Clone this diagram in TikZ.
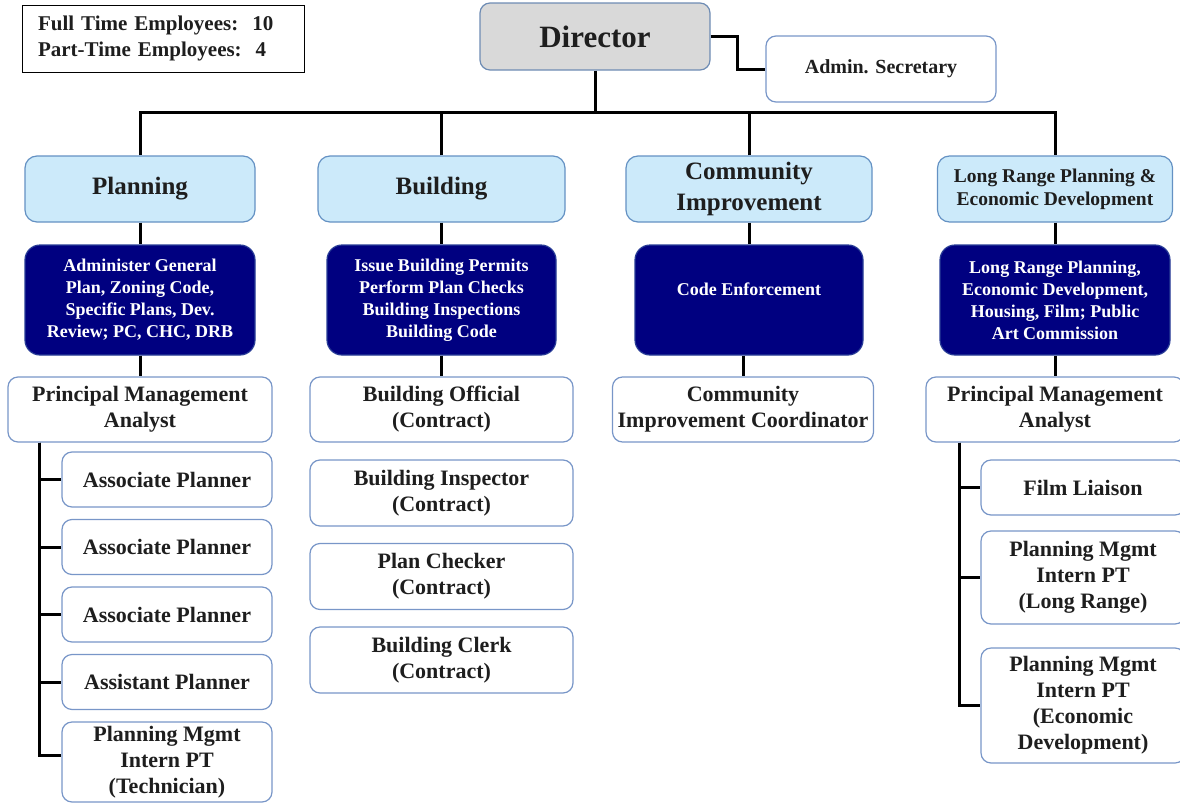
\documentclass[tikz,border=0pt]{standalone}
\usepackage{fontspec}
\setmainfont{Liberation Serif}
\usetikzlibrary{positioning}

\definecolor{chieffill}{RGB}{217,217,217}
\definecolor{chiefline}{RGB}{110,140,180}
\definecolor{deptfill}{RGB}{204,234,250}
\definecolor{deptline}{RGB}{100,145,195}
\definecolor{dutyfill}{RGB}{0,0,128}
\definecolor{dutyline}{RGB}{40,60,150}
\definecolor{staffline}{RGB}{120,150,200}
\definecolor{ink}{RGB}{30,30,30}

\begin{document}
\begin{tikzpicture}[
    x=1pt, y=-1pt,
    on grid,
    every node/.append style={align=center, inner sep=2pt, text=ink},
    box/.style={draw=#1, rounded corners=10pt, line width=1.2pt},
    tally/.style={draw=black, line width=1pt, align=left, text width=250pt, font=\fontsize{21}{26}\selectfont\bfseries},
    chief/.style={box=chiefline, fill=chieffill, font=\fontsize{31}{36}\selectfont\bfseries},
    dept/.style={box=deptline, fill=deptfill, rounded corners=12pt, minimum height=66pt, font=\fontsize{25}{31}\selectfont\bfseries},
    duty/.style={box=dutyline, fill=dutyfill, rounded corners=15pt, minimum height=110pt, text=white, font=\fontsize{18}{22}\selectfont\bfseries},
    staff/.style={box=staffline, fill=white, font=\fontsize{22}{26}\selectfont\bfseries},
    wire/.style={draw=black, line width=3pt}
]
   \useasboundingbox (0,0) rectangle (1180,803);

   % Top
   \node[tally, minimum width=282pt, minimum height=67pt] (tally) at (163,38.5) {Full Time Employees:~~10\\Part-Time Employees:~~4};
   \node[chief, minimum width=230pt, minimum height=67pt] (director) at (595,36.5) {Director};
   \node[staff, minimum width=230pt, minimum height=66pt, font=\fontsize{20}{24}\selectfont\bfseries] (secretary) at (881,69) {Admin. Secretary};

   % Divisions
   \node[dept, minimum width=230pt] (planning) at (140,189) {Planning};
   \node[dept, minimum width=247pt] (building) at (441.5,189) {Building};
   \node[dept, minimum width=246pt] (community) at (749,189) {Community\\Improvement};
   \node[dept, minimum width=235pt, font=\fontsize{19.5}{23}\selectfont\bfseries] (longrange) at (1055,189) {Long Range Planning \&\\Economic Development};

   % Duties
   \node[duty, minimum width=230pt] (planduty) at (140,300) {Administer General\\Plan, Zoning Code,\\Specific Plans, Dev.\\Review; PC, CHC, DRB};
   \node[duty, minimum width=229pt] (buildduty) at (441.5,300) {Issue Building Permits\\Perform Plan Checks\\Building Inspections\\Building Code};
   \node[duty, minimum width=228pt] (codeduty) at (749,300) {Code Enforcement\\\mbox{}};
   \node[duty, minimum width=230pt] (longduty) at (1055,300) {Long Range Planning,\\Economic Development,\\Housing, Film; Public\\Art Commission};

   % Staff
   \node[staff, minimum width=264pt, minimum height=65pt] (pma) at (140,409.5) {Principal Management\\Analyst};
   \node[staff, minimum width=263pt, minimum height=65pt] (official) at (441.5,409.5) {Building Official\\(Contract)};
   \node[staff, minimum width=261pt, minimum height=65pt] (coordinator) at (743,409.5) {Community\\Improvement Coordinator};
   \node[staff, minimum width=258pt, minimum height=65pt] (lpma) at (1055,409.5) {Principal Management\\Analyst};

   \node[staff, minimum width=210pt, minimum height=55pt] (assoc1) at (167,479.5) {Associate Planner};
   \node[staff, minimum width=210pt, minimum height=55pt] (assoc2) [below=67.5pt of assoc1] {Associate Planner};
   \node[staff, minimum width=210pt, minimum height=55pt] (assoc3) [below=67.5pt of assoc2] {Associate Planner};
   \node[staff, minimum width=210pt, minimum height=55pt] (assist) [below=67.5pt of assoc3] {Assistant Planner};
   \node[staff, minimum width=210pt, minimum height=80pt] (intern) [below=80pt of assist] {Planning Mgmt\\Intern PT\\(Technician)};

   \node[staff, minimum width=263pt, minimum height=66pt] (inspector) [below=83.5pt of official] {Building Inspector\\(Contract)};
   \node[staff, minimum width=263pt, minimum height=66pt] (checker) [below=83.5pt of inspector] {Plan Checker\\(Contract)};
   \node[staff, minimum width=263pt, minimum height=66pt] (clerk) [below=83.5pt of checker] {Building Clerk\\(Contract)};

   \node[staff, minimum width=204pt, minimum height=55pt] (film) at (1083,487.5) {Film Liaison};
   \node[staff, minimum width=204pt, minimum height=93pt] (longintern) [below=90pt of film] {Planning Mgmt\\Intern PT\\(Long Range)};
   \node[staff, minimum width=204pt, minimum height=115pt] (econintern) [below=128pt of longintern] {Planning Mgmt\\Intern PT\\(Economic\\Development)};

   % Lines
   \coordinate (bus) at (595,112);
   \draw[wire] (director) -- (bus);
   \draw[wire] (planning.north) |- (bus) -| (longrange.north);
   \draw[wire] (building.north) -- (building.north |- bus);
   \draw[wire] (community.north) -- (community.north |- bus);
   \draw[wire] (director.east) -- ++(27,0) |- (secretary.west);

   \draw[wire] (planning) -- (planduty);
   \draw[wire] (building) -- (buildduty);
   \draw[wire] (community) -- (codeduty);
   \draw[wire] (longrange) -- (longduty);

   \draw[wire] (planduty) -- (pma);
   \draw[wire] (buildduty) -- (official);
   \draw[wire] (codeduty.south -| coordinator.north) -- (coordinator.north);
   \draw[wire] (longduty) -- (lpma);

   \coordinate (plantrunk) at ([xshift=32pt]pma.south west);
   \foreach \n in {assoc1, assoc2, assoc3, assist}
      \draw[wire] (plantrunk) |- (\n.west);
   \draw[wire] (plantrunk) |- ([yshift=7pt]intern.west);
   \coordinate (longtrunk) at ([xshift=34pt]lpma.south west);
   \foreach \n in {film, longintern, econintern}
      \draw[wire] (longtrunk) |- (\n.west);
\end{tikzpicture}
\end{document}
